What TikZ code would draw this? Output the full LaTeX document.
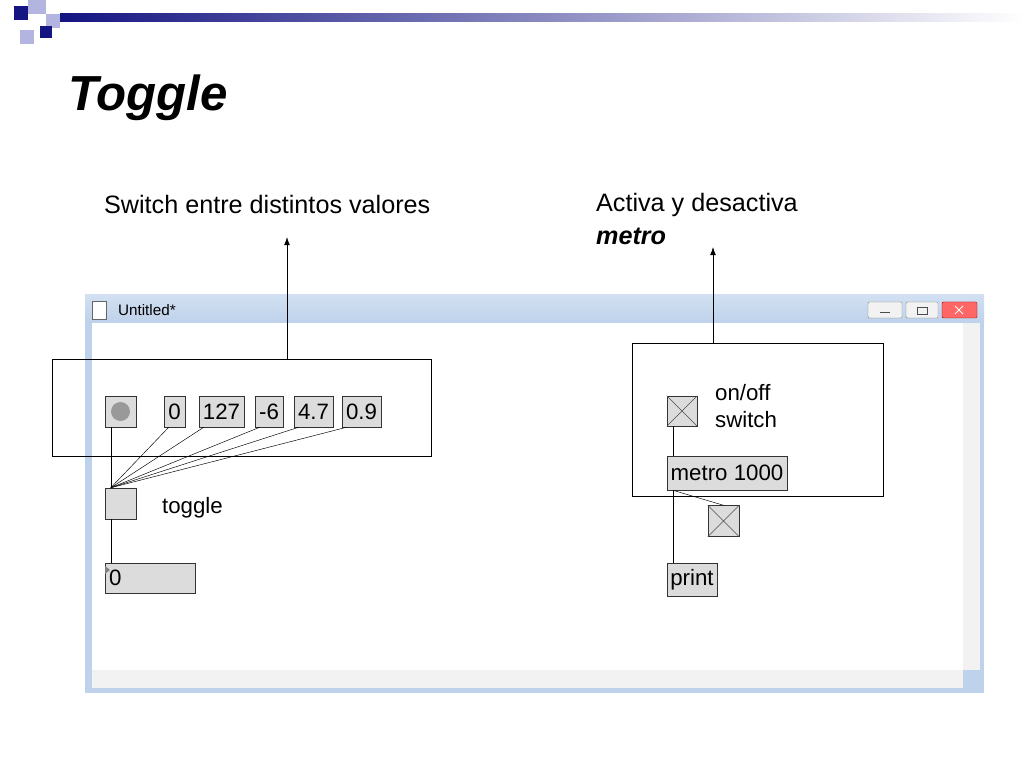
\documentclass[tikz,border=0pt]{standalone}
\usepackage{fontspec}
\setmainfont{Liberation Sans}
\usetikzlibrary{arrows,arrows.meta}
\definecolor{navy}{RGB}{20,20,130}
\definecolor{lav}{RGB}{180,180,225}
\definecolor{barblue}{RGB}{190,210,235}
\definecolor{objgrey}{RGB}{220,220,220}
\tikzset{
  obj/.style={draw=black!80,fill=objgrey,inner sep=0pt,font=\fontsize{19}{19}\selectfont},
  patch/.style={black,thin}
}
\begin{document}
\begin{tikzpicture}[x=0.03cm,y=-0.03cm]
\useasboundingbox (0,0) rectangle (1024,768);
\fill[white] (0,0) rectangle (1024,768);

% corner squares and bar
\fill[navy] (14,6) rectangle (28,20);
\fill[lav] (28,0) rectangle (46,14);
\fill[lav] (46,14) rectangle (60,28);
\fill[navy] (40,26) rectangle (52,38);
\fill[lav] (20,30) rectangle (34,44);
\shade[left color=navy,right color=white] (60,14) rectangle (1024,22);
\node[anchor=west,font=\fontsize{42}{42}\selectfont\bfseries\itshape] (title) at (64,98) {Toggle};

% window
\fill[barblue] (85,295) rectangle (984,693);
\shade[top color=barblue!70!white,bottom color=barblue] (85,295) rectangle (984,323);
\fill[white] (92,323) rectangle (963,670);
\fill[black!5] (963,323) rectangle (980,670);
\fill[black!5] (92,670) rectangle (963,688);
\node[anchor=west,font=\fontsize{13}{13}\selectfont] (wtitle) at (114,310) {Untitled*};
\draw[black!60,fill=white] (92,301) rectangle (106,319);
\draw[black!50,fill=black!5,rounded corners=1pt] (868,302) rectangle (902,318);
\draw[black!50,fill=black!5,rounded corners=1pt] (906,302) rectangle (938,318);
\draw[red!60!black,fill=red!60,rounded corners=1pt] (942,302) rectangle (977,318);
\draw[black!70] (880,312) -- (890,312);
\draw[black!70] (917,307) rectangle (927,314);
\draw[white,thick] (955,306) -- (963,314) (955,314) -- (963,306);

% callouts
\node[anchor=west,font=\fontsize{21.5}{21.5}\selectfont] (lab1) at (100,205) {Switch entre distintos valores};
\node[anchor=west,font=\fontsize{21.5}{21.5}\selectfont] (lab2) at (592,205) {Activa y desactiva};
\node[anchor=west,font=\fontsize{21.5}{21.5}\selectfont\bfseries\itshape] (lab3) at (592,236) {metro};
\node[draw,thin,minimum width=379*0.03cm,minimum height=97*0.03cm] (box1) at (241.5,407.5) {};
\node[draw,thin,minimum width=251*0.03cm,minimum height=153*0.03cm] (box2) at (757.5,419.5) {};
\coordinate (tip1) at (287,237);
\coordinate (tip2) at (713,247);
\draw[-{Latex[length=7pt,width=5pt]},semithick] (box1.north -| tip1) -- (tip1);
\draw[-{Latex[length=7pt,width=5pt]},semithick] (box2.north -| tip2) -- (tip2);

% left patch
\node[obj,minimum size=31*0.03cm] (bang) at (120.5,411.5) {};
\fill[black!40] (bang) circle (9.5);
\node[obj,minimum width=21*0.03cm,minimum height=31*0.03cm] (m0) at (174.5,411.5) {0};
\node[obj,minimum width=45*0.03cm,minimum height=31*0.03cm] (m127) at (221.5,411.5) {127};
\node[obj,minimum width=28*0.03cm,minimum height=31*0.03cm] (m6) at (269,411.5) {-6};
\node[obj,minimum width=39*0.03cm,minimum height=31*0.03cm] (m47) at (313.5,411.5) {4.7};
\node[obj,minimum width=39*0.03cm,minimum height=31*0.03cm] (m09) at (361.5,411.5) {0.9};
\node[obj,minimum size=31*0.03cm] (tgl) at (120.5,503.5) {};
\node[anchor=west,font=\fontsize{19}{19}\selectfont] (tgllab) at (158,508) {toggle};
\node[obj,minimum width=90*0.03cm,minimum height=30*0.03cm,text width=82*0.03cm,align=left] (num) at (150,578) {0};
\fill[black!50] (105,566) -- (110,570) -- (105,574) -- cycle;
\coordinate (tin) at ([xshift=6*0.03cm]tgl.north west);
\foreach \m in {m0,m127,m6,m47,m09}
  \draw[patch] ([xshift=5*0.03cm]\m.south west) -- (tin);
\draw[patch] ([xshift=6*0.03cm]bang.south west) -- (tin);
\draw[patch] ([xshift=6*0.03cm]tgl.south west) -- ([xshift=6*0.03cm]num.north west);

% right patch
\node[obj,minimum size=30*0.03cm] (sw) at (682,411) {};
\draw[black!70] (sw.north west) -- (sw.south east) (sw.north east) -- (sw.south west);
\node[anchor=west,align=left,font=\fontsize{19}{23}\selectfont] (swlab) at (711,406) {on/off\\switch};
\node[obj,minimum width=120*0.03cm,minimum height=34*0.03cm] (metro) at (727,473) {metro 1000};
\node[obj,minimum size=31*0.03cm] (out) at (723.5,521) {};
\draw[black!70] (out.north west) -- (out.south east) (out.north east) -- (out.south west);
\node[obj,minimum width=50*0.03cm,minimum height=33*0.03cm] (prt) at (692,579.5) {print};
\draw[patch] ([xshift=6*0.03cm]sw.south west) -- ([xshift=6*0.03cm]metro.north west);
\draw[patch] ([xshift=6*0.03cm]metro.south west) -- ([xshift=6*0.03cm]prt.north west);
\draw[patch] ([xshift=6*0.03cm]metro.south west) -- (out.north);
\end{tikzpicture}
\end{document}
